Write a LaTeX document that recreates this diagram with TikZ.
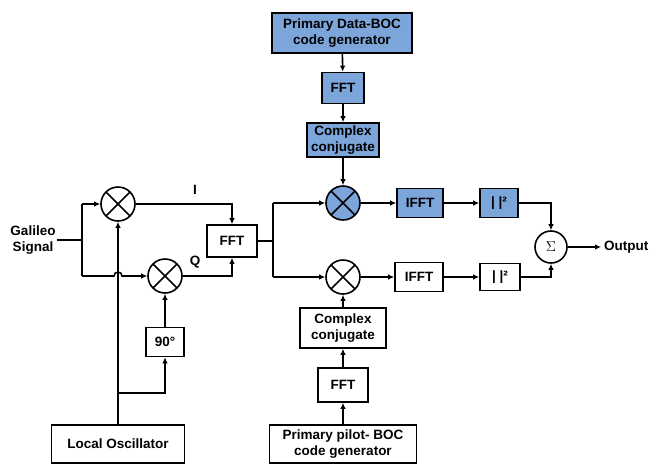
\documentclass[tikz,border=0pt]{standalone}
\usepackage{fontspec}
\setmainfont{Liberation Sans}
\usetikzlibrary{arrows.meta}
\definecolor{boxblue}{RGB}{124,165,218}
\tikzset{
  blk/.style={draw, line width=1.6pt, align=center, inner sep=1pt, font=\fontsize{13.5}{15.5}\selectfont\bfseries},
  blkblue/.style={blk, fill=boxblue},
  mixer/.style={draw, circle, line width=1.6pt, minimum size=34pt, inner sep=0pt,
    path picture={\draw[line width=1.6pt] (path picture bounding box.north west) -- (path picture bounding box.south east)
      (path picture bounding box.north east) -- (path picture bounding box.south west);}},
  wire/.style={line width=1.6pt},
  sig/.style={wire, -{Latex[length=6pt,width=5.5pt]}},
  lbl/.style={inner sep=1pt, align=center, font=\fontsize{13.5}{15.5}\selectfont\bfseries}
}
\begin{document}
\begin{tikzpicture}[x=1pt, y=-1pt]
        \useasboundingbox (0,0) rectangle (651,464);
        % upper branch (data)
        \path (342,33) node[blkblue, minimum width=140pt, minimum height=40pt] (datagen) {Primary Data-BOC\\code generator}
              (343,88) node[blkblue, minimum width=42pt, minimum height=31pt] (ffta) {FFT}
              (343,140) node[blkblue, minimum width=72pt, minimum height=34pt] (conja) {Complex\\conjugate}
              (343,203) node[mixer, fill=boxblue] (mixa) {}
              (420,203) node[blkblue, minimum width=46pt, minimum height=29pt] (iffta) {IFFT}
              (499,203) node[blkblue, minimum width=38pt, minimum height=29pt] (absa) {| |²};
        % lower branch (pilot)
        \path (343,444) node[blk, minimum width=147pt, minimum height=38pt] (pilotgen) {Primary pilot- BOC\\code generator}
              (343,385) node[blk, minimum width=50pt, minimum height=34pt] (fftb) {FFT}
              (343,328) node[blk, minimum width=86pt, minimum height=40pt] (conjb) {Complex\\conjugate}
              (343,277) node[mixer] (mixb) {}
              (419,277) node[blk, minimum width=48pt, minimum height=29pt] (ifftb) {IFFT}
              (500,277) node[blk, minimum width=40pt, minimum height=27pt] (absb) {| |²};
        % sum and output
        \path (551,247) node[draw, circle, line width=1.6pt, minimum size=32pt, inner sep=0pt] (sum) {\fontsize{14}{16}\selectfont$\Sigma$}
              (603,247) node[lbl, anchor=west] (output) {Output};
        % front end
        \path (33,240) node[lbl] (galileo) {Galileo\\Signal}
              (118,204) node[mixer] (mix1) {}
              (165,276) node[mixer] (mix2) {}
              (165,342) node[blk, minimum width=38pt, minimum height=29pt] (ninety) {90°}
              (118,444) node[blk, minimum width=133pt, minimum height=38pt] (lo) {Local Oscillator}
              (232,241) node[blk, minimum width=50pt, minimum height=32pt] (fft) {FFT}
              (195,190) node[lbl] (labi) {I}
              (195,262) node[lbl] (labq) {Q};
        % junctions
        \path (82,240) coordinate (sigsplit) (82,204) coordinate (sigtop) (82,276) coordinate (sigbot)
              (114,276) coordinate (hop) (118,393) coordinate (lotap)
              (273,241) coordinate (fftsplit) (273,203) coordinate (ffttop) (273,277) coordinate (fftbot)
              (601,247) coordinate (out);
        \draw[wire] (galileo.east) -- (sigsplit);
        \draw[wire] (sigtop) -- (sigbot);
        \draw[sig] (sigtop) -- (mix1);
        \draw[sig] (sigbot) -- (hop) arc (180:360:4) -- (mix2);
        \draw[sig] (lo) -- (mix1);
        \draw[sig] (lotap) -| (ninety);
        \draw[sig] (ninety) -- (mix2);
        \draw[sig] (mix1) -| (fft);
        \draw[sig] (mix2) -| (fft);
        \draw[wire] (fft) -- (fftsplit);
        \draw[wire] (ffttop) -- (fftbot);
        \draw[sig] (ffttop) -- (mixa);
        \draw[sig] (fftbot) -- (mixb);
        \draw[sig] (datagen) -- (ffta);
        \draw[sig] (ffta) -- (conja);
        \draw[sig] (conja) -- (mixa);
        \draw[sig] (pilotgen) -- (fftb);
        \draw[sig] (fftb) -- (conjb);
        \draw[sig] (conjb) -- (mixb);
        \draw[sig] (mixa) -- (iffta);
        \draw[sig] (iffta) -- (absa);
        \draw[sig] (mixb) -- (ifftb);
        \draw[sig] (ifftb) -- (absb);
        \draw[sig] (absa) -| (sum);
        \draw[sig] (absb) -| (sum);
        \draw[sig] (sum) -- (out);
    \end{tikzpicture}
\end{document}
